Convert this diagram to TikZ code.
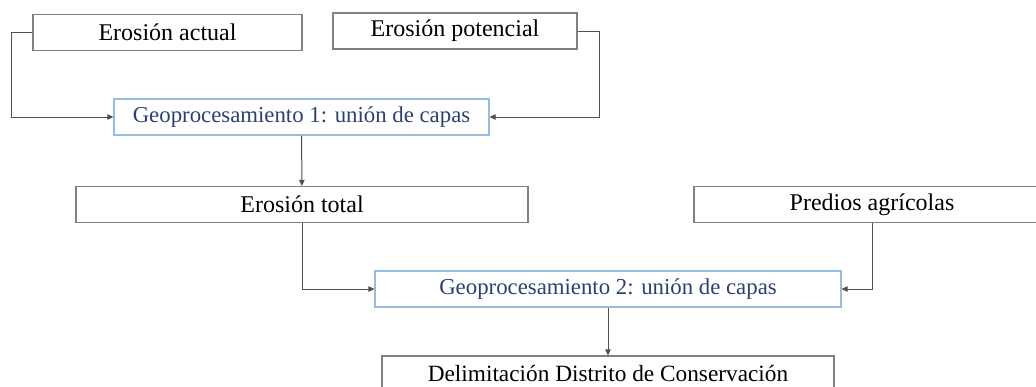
\documentclass[tikz,border=0pt]{standalone}
\usepackage{fontspec}
\setmainfont{Liberation Serif}
\usepackage{xcolor}
\usepackage{tikz}
\usetikzlibrary{arrows.meta, positioning}

\definecolor{geotext}{RGB}{44,64,112}
\definecolor{geoline}{RGB}{150,190,228}
\definecolor{boxline}{RGB}{128,128,128}
\definecolor{connline}{RGB}{80,80,80}

\begin{document}
\begin{tikzpicture}[
    x=1pt, y=-1pt,
    every node/.style={font=\fontsize{24}{28}\selectfont},
    layer/.style={
        rectangle,
        minimum height=36pt,
        inner sep=0pt,
        text centered,
        line width=1.2pt,
        draw=boxline
    },
    geoproc/.style={
        rectangle,
        minimum height=36pt,
        inner sep=0pt,
        text centered,
        font=\fontsize{22.8}{27}\selectfont,
        text=geotext,
        line width=1.2pt,
        draw=geoline
    },
    arrow/.style={line width=1pt, draw=connline, -{Triangle[length=6pt,width=5.5pt]}}
]

\clip (0,0) rectangle (1036,386);

\node (actual)    [layer, minimum width=269pt] at (167.5,32.5) {Erosión actual};
\node (potencial) [layer, minimum width=244pt] at (455,31) {Erosión potencial};

\node (geo1) [geoproc, minimum width=375pt] at (301.5,117)
    {Geoprocesamiento 1: unión de capas};

\node (total)   [layer, minimum width=452pt] at (302,204.5) {Erosión total};
\node (predios) [layer, minimum width=356pt] at (872,204.5) {Predios agrícolas};

\node (geo2) [geoproc, minimum width=466pt] at (608,289)
    {Geoprocesamiento 2: unión de capas};

\node (delim) [layer, minimum width=452pt, font=\fontsize{23.3}{27}\selectfont] at (608,374)
    {Delimitación Distrito de Conservación};

% Arrows
\draw[arrow] (actual.west) -- ++(-21,0) |- (geo1.west);
\draw[arrow] (potencial.east) -- ++(22,0) |- (geo1.east);
\draw[arrow] (geo1) -- (total);
\draw[arrow] (total.south) |- (geo2.west);
\draw[arrow] (predios.south) |- (geo2.east);
\draw[arrow] (geo2) -- (delim);

\end{tikzpicture}
\end{document}
